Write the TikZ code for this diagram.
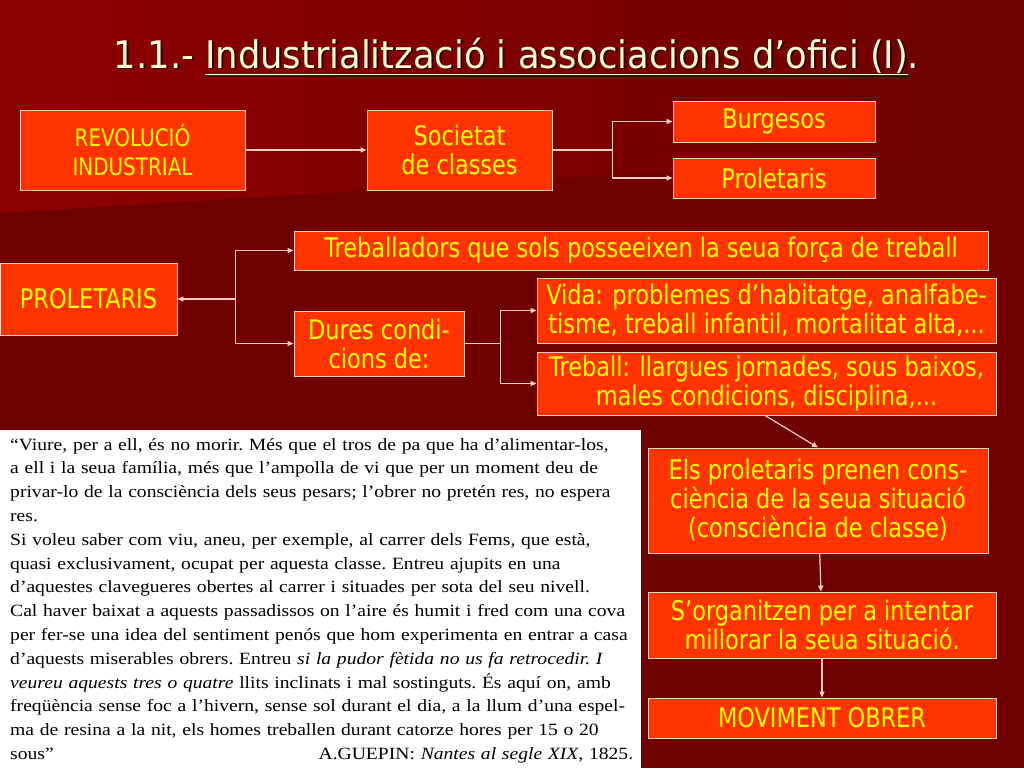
\documentclass[tikz,border=0pt]{standalone}
\usepackage{fontspec}
\setmainfont[FakeStretch=1.14]{Liberation Serif}
\newfontfamily\caixafont[FakeStretch=0.83]{DejaVu Sans}
\newfontfamily\titolfont[FakeStretch=0.93]{DejaVu Sans}
\usetikzlibrary{arrows.meta}
\usepackage{xcolor}
\definecolor{fonsfosc}{RGB}{110,0,0}
\definecolor{fonsclar}{RGB}{142,0,0}
\definecolor{caixaroig}{RGB}{255,51,0}
\definecolor{caixagroc}{RGB}{255,255,0}
\definecolor{vorarosa}{RGB}{255,205,195}
\definecolor{titolcrema}{RGB}{255,255,210}

\begin{document}
\begin{tikzpicture}[x=1pt,y=-1pt,>={Triangle[length=6pt,width=5pt]},line cap=round,
  caixa/.style={draw=vorarosa,line width=0.9pt,fill=caixaroig,text=caixagroc,align=center,inner sep=0pt,font=\caixafont\fontsize{27}{29}\selectfont},
  fletxa/.style={draw=vorarosa,line width=1.2pt}]
\useasboundingbox (0,0) rectangle (1024,768);
\fill[fonsfosc] (0,0) rectangle (1024,768);
\shade[left color=fonsclar,right color=fonsfosc] (0,0) -- (1024,0) -- (1024,150) -- (0,213) -- cycle;
% title
\node[text=black!80!red,font=\titolfont\fontsize{38}{40}\selectfont,anchor=base] (ombra) at (518.5,70) {1.1.- \underline{Industrialització i associacions d’ofici (I)}.};
\node[text=titolcrema,font=\titolfont\fontsize{38}{40}\selectfont,anchor=base] (titol) at (516.5,68) {1.1.- \underline{Industrialització i associacions d’ofici (I)}.};
% first row
\node[caixa,minimum width=225,minimum height=80,font=\caixafont\fontsize{24}{29}\selectfont] (revind) at (132.5,150) {REVOLUCIÓ\\INDUSTRIAL};
\node[caixa,minimum width=185,minimum height=80] (societat) at (459.5,150) {Societat\\de classes};
\node[caixa,minimum width=202,minimum height=41] (burgesos) at (774,121.5) {Burgesos};
\node[caixa,minimum width=202,minimum height=40] (proletaris) at (774,178) {Proletaris};
\draw[fletxa,->] (revind) -- (societat);
\draw[fletxa] (societat.east) -- ++(60,0) coordinate (nus1);
\draw[fletxa,->] (nus1) |- (burgesos);
\draw[fletxa,->] (nus1) |- (proletaris);
% second row
\node[caixa,minimum width=177,minimum height=72] (prolet) at (88.5,299) {PROLETARIS};
\node[caixa,minimum width=694,minimum height=39] (treballadors) at (641,250.5) {Treballadors que sols posseeixen la seua força de treball};
\node[caixa,minimum width=170,minimum height=65] (dures) at (379,343.5) {Dures condi-\\cions de:};
\node[caixa,minimum width=459,minimum height=65] (vida) at (766.5,310.5) {Vida: problemes d’habitatge, analfabe-\\tisme, treball infantil, mortalitat alta,...};
\node[caixa,minimum width=459,minimum height=63] (treball) at (766.5,383.5) {Treball: llargues jornades, sous baixos,\\males condicions, disciplina,...};
\draw[fletxa,<-] (prolet.east) -- ++(58,0) coordinate (nus2);
\draw[fletxa,->] (nus2) |- (treballadors);
\draw[fletxa,->] (nus2) |- (dures);
\draw[fletxa] (dures.east) -- ++(36,0) coordinate (nus3);
\draw[fletxa,->] (nus3) |- (vida);
\draw[fletxa,->] (nus3) |- (treball);
% right column
\node[caixa,minimum width=340,minimum height=105] (consciencia) at (818,500.5) {Els proletaris prenen cons-\\ciència de la seua situació\\(consciència de classe)};
\node[caixa,minimum width=348,minimum height=66] (organitzen) at (822,625) {S’organitzen per a intentar\\millorar la seua situació.};
\node[caixa,minimum width=348,minimum height=40] (moviment) at (822,718) {MOVIMENT OBRER};
\draw[fletxa,->] ([xshift=-1.5pt]treball.south) -- (consciencia.north);
\draw[fletxa,->] (consciencia) -- (organitzen);
\draw[fletxa,->] (organitzen) -- (moviment);
% quote
\fill[white] (0,430) rectangle (641,768);
\node[anchor=base west,align=left,text width=625,inner sep=0pt,font=\frenchspacing\fontsize{17.2}{23.8}\selectfont] (cita) at (10,450) {%
“Viure, per a ell, és no morir. Més que el tros de pa que ha d’alimentar-los,\\
a ell i la seua família, més que l’ampolla de vi que per un moment deu de\\
privar-lo de la consciència dels seus pesars; l’obrer no pretén res, no espera\\
res.\\
Si voleu saber com viu, aneu, per exemple, al carrer dels Fems, que està,\\
quasi exclusivament, ocupat per aquesta classe. Entreu ajupits en una\\
d’aquestes clavegueres obertes al carrer i situades per sota del seu nivell.\\
Cal haver baixat a aquests passadissos on l’aire és humit i fred com una cova\\
per fer-se una idea del sentiment penós que hom experimenta en entrar a casa\\
d’aquests miserables obrers. Entreu \textit{si la pudor fètida no us fa retrocedir. I}\\
\textit{veureu aquests tres o quatre} llits inclinats i mal sostinguts. És aquí on, amb\\
freqüència sense foc a l’hivern, sense sol durant el dia, a la llum d’una espel-\\
ma de resina a la nit, els homes treballen durant catorze hores per 15 o 20\\
\makebox[623pt][l]{sous”\hfill A.GUEPIN: \textit{Nantes al segle XIX}, 1825.}};
\end{tikzpicture}
\end{document}
